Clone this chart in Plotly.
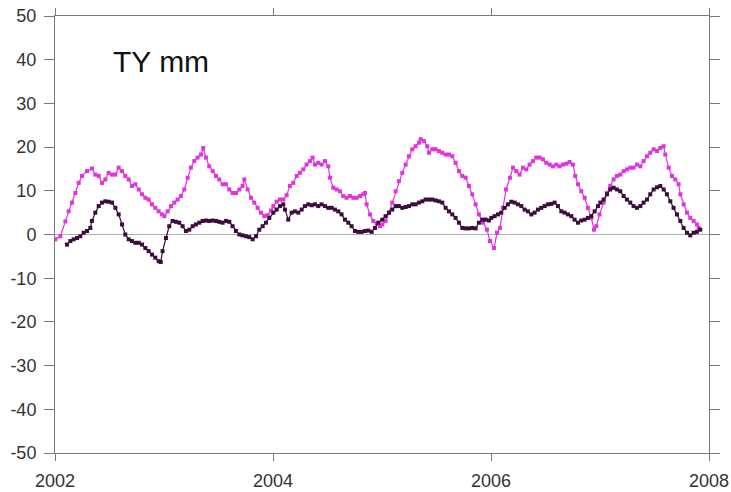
import plotly.graph_objects as go

# TY component, mm — decimal-year epochs and values for the two series
pink_t = [2002.003, 2002.049, 2002.095, 2002.125, 2002.156, 2002.187, 2002.217, 2002.248,
          2002.294, 2002.339, 2002.370, 2002.401, 2002.431, 2002.462, 2002.492, 2002.523,
          2002.554, 2002.584, 2002.615, 2002.645, 2002.676, 2002.706, 2002.737, 2002.768,
          2002.798, 2002.829, 2002.859, 2002.890, 2002.920, 2002.951, 2002.982, 2003.003,
          2003.033, 2003.064, 2003.094, 2003.125, 2003.155, 2003.186, 2003.217, 2003.247,
          2003.278, 2003.308, 2003.339, 2003.360, 2003.385, 2003.415, 2003.446, 2003.477,
          2003.507, 2003.538, 2003.568, 2003.599, 2003.629, 2003.660, 2003.691, 2003.721,
          2003.737, 2003.767, 2003.798, 2003.828, 2003.859, 2003.889, 2003.920, 2003.951,
          2003.982, 2004.003, 2004.033, 2004.064, 2004.094, 2004.125, 2004.155, 2004.186,
          2004.217, 2004.247, 2004.278, 2004.308, 2004.339, 2004.363, 2004.385, 2004.415,
          2004.446, 2004.477, 2004.507, 2004.522, 2004.553, 2004.584, 2004.614, 2004.645,
          2004.675, 2004.706, 2004.737, 2004.767, 2004.798, 2004.828, 2004.844, 2004.859,
          2004.889, 2004.920, 2004.951, 2004.982, 2005.003, 2005.033, 2005.064, 2005.094,
          2005.125, 2005.155, 2005.186, 2005.217, 2005.247, 2005.278, 2005.308, 2005.339,
          2005.354, 2005.385, 2005.415, 2005.431, 2005.461, 2005.492, 2005.522, 2005.553,
          2005.584, 2005.614, 2005.645, 2005.675, 2005.706, 2005.737, 2005.767, 2005.798,
          2005.828, 2005.859, 2005.889, 2005.927, 2005.963, 2005.991, 2006.028, 2006.055,
          2006.083, 2006.110, 2006.138, 2006.174, 2006.202, 2006.232, 2006.262, 2006.293,
          2006.324, 2006.354, 2006.385, 2006.415, 2006.446, 2006.477, 2006.507, 2006.538,
          2006.568, 2006.599, 2006.629, 2006.660, 2006.691, 2006.721, 2006.752, 2006.773,
          2006.798, 2006.828, 2006.859, 2006.889, 2006.920, 2006.945, 2006.966, 2006.996,
          2007.033, 2007.064, 2007.094, 2007.125, 2007.155, 2007.186, 2007.217, 2007.247,
          2007.278, 2007.308, 2007.339, 2007.370, 2007.400, 2007.431, 2007.461, 2007.492,
          2007.523, 2007.553, 2007.584, 2007.599, 2007.630, 2007.660, 2007.691, 2007.721,
          2007.737, 2007.767, 2007.798, 2007.828, 2007.859, 2007.889, 2007.905]
pink_v = [-1.1, -0.4, 3.0, 5.3, 7.3, 9.5, 11.8, 13.4,
          14.5, 15.1, 13.7, 13.4, 11.8, 12.6, 14.1, 13.7,
          13.7, 15.3, 14.5, 13.4, 12.6, 11.1, 11.5, 10.3,
          9.2, 8.4, 8.0, 6.9, 6.1, 5.3, 4.6, 4.2,
          5.3, 6.5, 7.3, 8.0, 8.8, 10.3, 13.0, 15.3,
          16.8, 17.6, 18.3, 19.8, 17.6, 15.6, 14.5, 13.4,
          12.6, 11.5, 11.5, 10.3, 9.5, 9.5, 10.3, 11.1,
          12.6, 10.3, 8.4, 7.3, 6.1, 5.0, 4.2, 4.4,
          5.5, 6.5, 7.5, 8.0, 8.0, 9.0, 11.1, 11.8,
          13.4, 14.1, 14.9, 16.0, 16.8, 17.6, 16.0, 16.4,
          16.0, 16.8, 15.6, 13.0, 10.7, 10.3, 9.9, 8.8,
          8.4, 8.8, 8.4, 8.4, 8.8, 9.2, 9.5, 6.9,
          4.6, 3.1, 2.5, 1.9, 2.3, 3.1, 5.0, 7.3,
          9.9, 12.2, 14.1, 16.0, 17.9, 19.5, 20.2, 21.0,
          21.8, 21.4, 20.2, 18.7, 19.5, 19.5, 19.1, 18.7,
          18.3, 18.3, 17.9, 16.4, 14.5, 13.4, 13.0, 11.1,
          9.2, 6.9, 4.6, 2.7, 1.1, -1.5, -3.1, 0.4,
          1.5, 6.1, 10.3, 13.0, 15.3, 14.5, 13.7, 15.3,
          14.9, 16.0, 16.8, 17.6, 17.6, 17.2, 16.4, 16.0,
          15.6, 16.0, 15.6, 16.0, 16.2, 16.6, 16.0, 13.4,
          11.5, 9.9, 8.4, 6.1, 3.8, 1.1, 1.9, 4.6,
          7.3, 9.5, 11.1, 12.6, 13.4, 13.7, 14.5, 14.9,
          15.3, 15.3, 16.0, 15.6, 16.8, 17.9, 18.7, 19.5,
          19.1, 19.8, 20.2, 18.3, 15.3, 13.4, 12.6, 11.5,
          9.2, 6.9, 5.0, 3.8, 3.1, 2.3, 1.5]

dark_t = [2002.110, 2002.141, 2002.171, 2002.202, 2002.232, 2002.263, 2002.294, 2002.324,
          2002.339, 2002.370, 2002.401, 2002.431, 2002.462, 2002.492, 2002.523, 2002.554,
          2002.584, 2002.615, 2002.645, 2002.676, 2002.706, 2002.737, 2002.768, 2002.798,
          2002.829, 2002.859, 2002.890, 2002.920, 2002.951, 2002.970, 2002.987, 2003.018,
          2003.048, 2003.079, 2003.110, 2003.140, 2003.171, 2003.201, 2003.232, 2003.263,
          2003.293, 2003.324, 2003.354, 2003.385, 2003.415, 2003.446, 2003.477, 2003.507,
          2003.538, 2003.568, 2003.599, 2003.629, 2003.660, 2003.691, 2003.721, 2003.752,
          2003.782, 2003.813, 2003.844, 2003.874, 2003.905, 2003.935, 2003.966, 2004.003,
          2004.033, 2004.064, 2004.094, 2004.110, 2004.140, 2004.171, 2004.201, 2004.232,
          2004.263, 2004.293, 2004.324, 2004.354, 2004.385, 2004.415, 2004.446, 2004.477,
          2004.507, 2004.538, 2004.568, 2004.599, 2004.629, 2004.660, 2004.691, 2004.721,
          2004.752, 2004.782, 2004.813, 2004.844, 2004.874, 2004.905, 2004.935, 2004.966,
          2005.003, 2005.033, 2005.064, 2005.094, 2005.125, 2005.155, 2005.186, 2005.217,
          2005.247, 2005.278, 2005.308, 2005.339, 2005.370, 2005.400, 2005.431, 2005.461,
          2005.492, 2005.522, 2005.553, 2005.584, 2005.614, 2005.645, 2005.675, 2005.706,
          2005.737, 2005.767, 2005.798, 2005.828, 2005.859, 2005.889, 2005.920, 2005.951,
          2005.981, 2006.003, 2006.033, 2006.064, 2006.094, 2006.125, 2006.155, 2006.186,
          2006.217, 2006.247, 2006.278, 2006.308, 2006.339, 2006.370, 2006.400, 2006.431,
          2006.461, 2006.492, 2006.522, 2006.553, 2006.584, 2006.614, 2006.645, 2006.675,
          2006.706, 2006.737, 2006.767, 2006.798, 2006.828, 2006.859, 2006.889, 2006.920,
          2006.951, 2006.981, 2007.003, 2007.033, 2007.064, 2007.094, 2007.125, 2007.155,
          2007.186, 2007.217, 2007.247, 2007.278, 2007.308, 2007.339, 2007.370, 2007.400,
          2007.431, 2007.461, 2007.492, 2007.523, 2007.553, 2007.584, 2007.614, 2007.645,
          2007.675, 2007.706, 2007.737, 2007.767, 2007.798, 2007.828, 2007.859, 2007.889,
          2007.920]
dark_v = [-2.3, -1.5, -1.1, -0.8, -0.4, 0.4, 0.8, 1.5,
          3.1, 5.0, 6.5, 7.3, 7.6, 7.5, 7.3, 6.1,
          4.6, 2.3, 0.0, -1.1, -1.5, -1.9, -1.9, -2.3,
          -3.1, -3.8, -4.6, -5.3, -6.1, -6.3, -3.8, -0.8,
          1.9, 3.1, 2.9, 2.7, 1.9, 0.8, 1.1, 1.9,
          2.3, 2.7, 3.1, 3.2, 3.1, 3.2, 3.1, 2.9,
          2.7, 3.1, 2.9, 1.9, 0.8, 0.0, -0.2, -0.4,
          -0.6, -1.1, -0.4, 1.1, 1.9, 2.7, 3.8, 5.0,
          5.7, 6.5, 6.9, 5.7, 3.4, 5.0, 5.3, 5.0,
          5.7, 6.5, 6.9, 6.7, 6.9, 6.5, 6.9, 6.5,
          6.1, 6.1, 5.7, 5.3, 4.6, 3.4, 2.7, 1.9,
          0.8, 0.6, 0.6, 0.8, 0.9, 0.6, 1.5, 2.7,
          3.4, 4.2, 5.0, 5.7, 6.5, 6.5, 6.1, 6.3,
          6.5, 6.9, 6.9, 7.3, 7.6, 8.0, 8.0, 8.0,
          7.8, 7.6, 7.3, 6.1, 5.3, 4.6, 3.8, 2.7,
          1.5, 1.4, 1.4, 1.5, 1.4, 2.7, 3.4, 3.4,
          3.2, 3.8, 4.2, 4.6, 5.0, 6.1, 6.9, 7.5,
          7.3, 6.9, 6.5, 5.7, 5.3, 4.6, 5.0, 5.7,
          6.1, 6.5, 6.9, 7.0, 7.3, 6.5, 5.3, 5.0,
          4.6, 4.2, 3.4, 2.7, 3.2, 3.4, 3.8, 4.2,
          5.3, 6.5, 7.3, 8.0, 9.2, 10.3, 10.7, 10.3,
          9.9, 8.8, 8.0, 7.3, 6.5, 6.1, 6.5, 7.3,
          8.0, 9.2, 10.3, 10.8, 11.1, 10.3, 9.2, 7.6,
          6.1, 4.6, 3.1, 1.5, 0.4, -0.2, 0.4, 0.6,
          1.1]

x_ticks = [2002, 2004, 2006, 2008]
y_ticks = [-50, -40, -30, -20, -10, 0, 10, 20, 30, 40, 50]
title_text = "TY mm"

PINK = "#df34df"
DARK = "#3a0d3a"
AXIS = "#7a7a7a"
FONT = "Liberation Sans"

fig = go.Figure()
fig.add_trace(go.Scatter(
    x=pink_t, y=pink_v, mode="lines+markers",
    line=dict(color=PINK, width=1.2),
    marker=dict(symbol="square", size=4, color=PINK),
    showlegend=False,
))
fig.add_trace(go.Scatter(
    x=dark_t, y=dark_v, mode="lines+markers",
    line=dict(color=DARK, width=1.2),
    marker=dict(symbol="square", size=4, color=DARK),
    showlegend=False,
))

fig.add_annotation(
    text=title_text, xref="paper", yref="paper",
    x=0.085, y=0.895, xanchor="left", yanchor="middle",
    showarrow=False, font=dict(family=FONT, size=30, color="#111111"),
)

axis_common = dict(
    showline=True, linecolor=AXIS, linewidth=1, mirror="ticks",
    ticks="outside", tickcolor=AXIS, tickwidth=1,
    showgrid=False, automargin=False,
    tickfont=dict(family=FONT, size=18, color="#333333"),
)

fig.update_xaxes(
    range=[2002, 2008], tickvals=x_ticks, ticktext=[str(v) for v in x_ticks],
    ticklen=7, ticklabelstandoff=4, zeroline=False, **axis_common,
)
fig.update_yaxes(
    range=[-50, 50], tickvals=y_ticks, ticktext=[str(v) for v in y_ticks],
    ticklen=10, ticklabelstandoff=4, zeroline=True, zerolinecolor="#b0b0b0",
    zerolinewidth=1, **axis_common,
)

fig.update_layout(
    width=731, height=492,
    margin=dict(l=55, r=22, t=16, b=39, pad=0),
    paper_bgcolor="white", plot_bgcolor="white",
)

fig.write_html("out.html")
